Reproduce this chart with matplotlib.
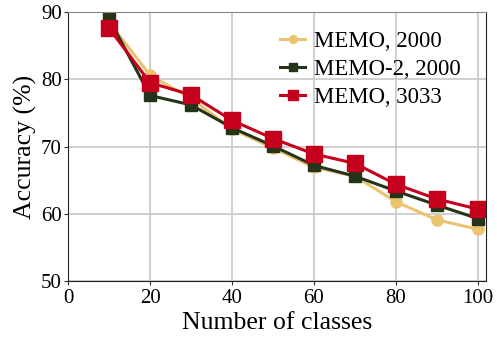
import numpy as np
import matplotlib.pyplot as plt

# accuracy vs number of classes for each memory setting
classes = [10, 20, 30, 40, 50, 60, 70, 80, 90, 100]
memo_2000 = [88.5, 80.6, 77.2, 72.6, 69.8, 66.9, 65.6, 61.8, 59.1, 57.7]
memo2_2000 = [89.0, 77.6, 76.2, 72.8, 70.1, 67.2, 65.6, 63.4, 61.3, 59.3]
memo_3033 = [87.6, 79.5, 77.7, 73.9, 71.2, 68.9, 67.5, 64.4, 62.2, 60.7]

plt.rcParams['font.family'] = ['Liberation Serif', 'DejaVu Serif']

fig = plt.figure(figsize=(4.97, 3.37), dpi=100)
ax = fig.add_axes([0.137, 0.166, 0.841, 0.798])

ax.plot(classes, memo_2000, color='#EAC46E', marker='o', markersize=8, lw=2.2, label='MEMO, 2000')
ax.plot(classes, memo2_2000, color='#243418', marker='s', markersize=9, lw=2.2, label='MEMO-2, 2000')
ax.plot(classes, memo_3033, color='#C4001C', marker='s', markersize=11, lw=2.2, label='MEMO, 3033')

ax.set_xlim(0, 102)
ax.set_ylim(50, 90)
ax.set_xticks([0, 20, 40, 60, 80, 100])
ax.set_yticks([50, 60, 70, 80, 90])
ax.grid(True, color='#c8c8c8', lw=1.2)
ax.set_axisbelow(True)
ax.tick_params(labelsize=15, color='#333333', length=3, pad=1.5)
ax.tick_params(axis='x', pad=2.5)
ax.set_xlabel('Number of classes', fontsize=18.5, labelpad=3)
ax.set_ylabel('Accuracy (%)', fontsize=18.5, labelpad=3)
for s in ax.spines.values():
    s.set_color('#222222')
ax.spines['top'].set_color('#888888')

ax.legend(loc='upper left', bbox_to_anchor=(0.507, 0.929), fontsize=16.4, frameon=False,
          handlelength=1.1, handletextpad=0.4, borderaxespad=0, borderpad=0,
          labelspacing=0.3, markerscale=0.7)

fig.savefig('out.png', dpi=100)
